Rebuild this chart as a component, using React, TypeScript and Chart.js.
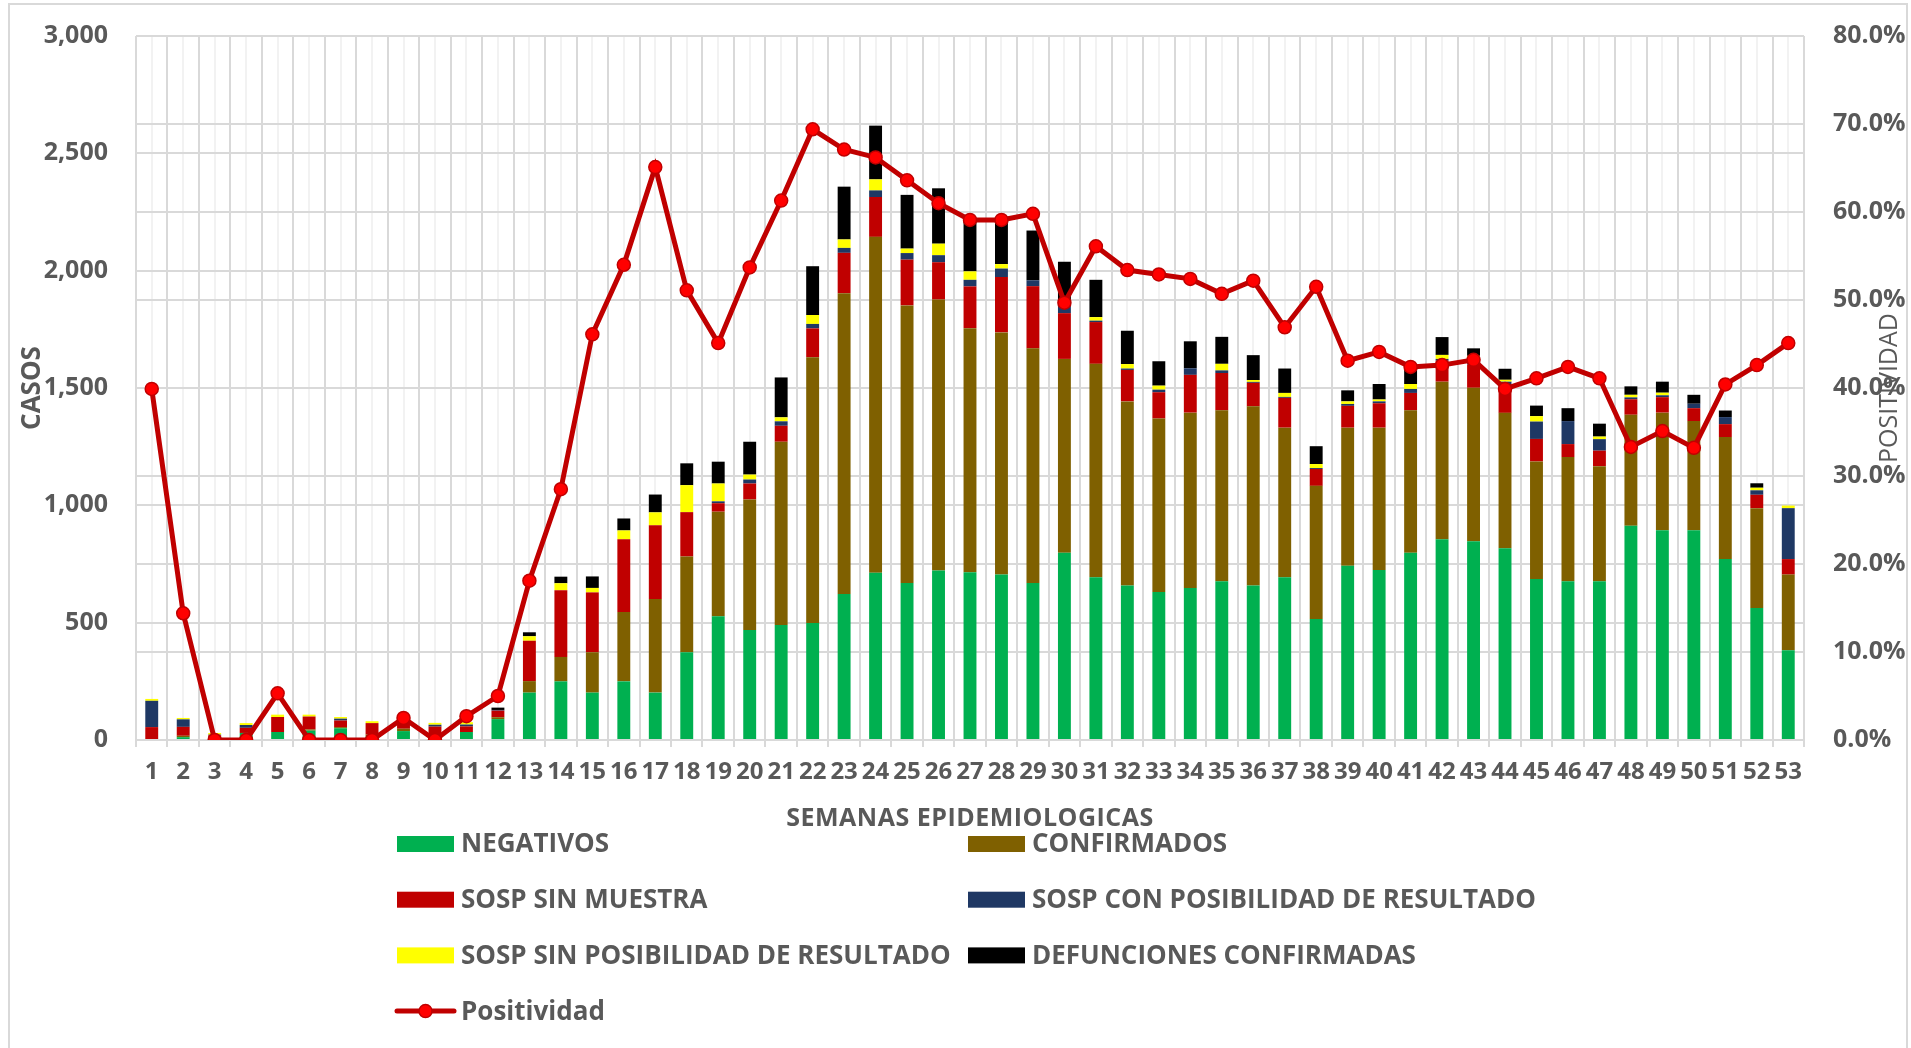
import React, { useEffect, useRef } from 'react';
import { Chart, registerables } from 'chart.js';

Chart.register(...registerables);

const FONT = '"Open Sans", "DejaVu Sans", sans-serif';
const TEXT = '#595959';
const GRID = '#d9d9d9';

const semanas = ['1','2','3','4','5','6','7','8','9','10','11','12','13','14','15','16','17','18','19','20','21','22','23','24','25','26','27','28','29','30','31','32','33','34','35','36','37','38','39','40','41','42','43','44','45','46','47','48','49','50','51','52','53'];

const negativos = [0,12,5,30,34,40,50,15,38,12,34,89,202,250,202,250,202,374,527,469,490,499,622,713,669,722,715,705,669,798,694,658,631,648,677,658,694,516,743,724,798,856,847,817,686,677,677,913,894,894,771,563,382];
const confirmados = [0,6,3,0,0,5,5,8,10,3,0,8,49,104,172,295,399,408,446,556,781,1132,1282,1431,1183,1155,1040,1032,1000,826,909,785,739,747,728,764,637,567,588,607,607,671,654,577,501,529,490,473,501,465,520,425,323];
const sospSinMuestra = [55,38,12,22,64,55,28,49,25,42,24,28,172,284,255,310,314,189,36,68,68,123,172,170,195,159,178,236,265,195,178,134,112,161,159,100,127,72,93,104,74,89,98,113,96,55,66,66,66,55,55,57,66];
const sospConPosibilidad = [112,32,3,12,0,0,8,0,0,8,8,3,0,0,0,0,0,0,8,17,19,19,21,28,28,30,28,36,25,34,6,6,11,28,11,4,4,4,8,8,17,8,30,20,74,98,49,8,8,19,30,19,217];
const sospSinPosibilidad = [8,6,7,8,10,8,7,8,5,8,10,0,19,30,19,38,55,115,76,21,17,38,36,47,19,49,36,19,0,0,15,19,17,0,28,8,17,17,11,8,21,17,8,8,23,0,11,11,11,0,0,11,11];
const defunciones = [0,0,0,0,0,0,0,0,0,0,0,10,17,28,49,51,76,93,93,140,170,208,225,229,229,236,217,187,212,185,159,142,104,115,115,106,104,76,47,66,64,76,32,47,45,55,55,36,47,38,28,19,0];
const positividad = [39.9,14.4,0,0,5.3,0,0,0,2.5,0,2.7,5.0,18.1,28.5,46.1,54.0,65.1,51.1,45.1,53.7,61.3,69.4,67.1,66.2,63.6,61.0,59.1,59.1,59.8,49.7,56.1,53.4,52.9,52.4,50.7,52.2,46.9,51.5,43.1,44.1,42.4,42.6,43.2,39.9,41.1,42.4,41.1,33.3,35.1,33.2,40.4,42.6,45.1];

const barSeries = [
  { label: 'NEGATIVOS', data: negativos, color: '#00B050' },
  { label: 'CONFIRMADOS', data: confirmados, color: '#7F6000' },
  { label: 'SOSP SIN MUESTRA', data: sospSinMuestra, color: '#C00000' },
  { label: 'SOSP CON POSIBILIDAD DE RESULTADO', data: sospConPosibilidad, color: '#1F3864' },
  { label: 'SOSP SIN POSIBILIDAD DE RESULTADO', data: sospSinPosibilidad, color: '#FFFF00' },
  { label: 'DEFUNCIONES CONFIRMADAS', data: defunciones, color: '#000000' },
];

const decorPlugin = {
  id: 'decor',
  beforeDraw(chart: any) {
    const ctx = chart.ctx;
    ctx.save();
    ctx.fillStyle = '#ffffff';
    ctx.fillRect(0, 0, chart.width, chart.height);
    ctx.strokeStyle = GRID;
    ctx.lineWidth = 2;
    ctx.strokeRect(9, 4, 1898, 1200);
    ctx.restore();
  },
  afterDraw(chart: any) {
    const ctx = chart.ctx;
    const { left, right, top, bottom } = chart.chartArea;
    const midY = (top + bottom) / 2;
    ctx.save();
    ctx.fillStyle = TEXT;
    ctx.textAlign = 'center';
    ctx.textBaseline = 'middle';

    ctx.save();
    ctx.translate(33, midY);
    ctx.rotate(-Math.PI / 2);
    ctx.font = `bold 26px ${FONT}`;
    ctx.fillText('CASOS', 0, 0);
    ctx.restore();

    ctx.save();
    ctx.translate(1890, midY);
    ctx.rotate(-Math.PI / 2);
    ctx.font = `25px ${FONT}`;
    ctx.fillText('POSITIVIDAD', 0, 0);
    ctx.restore();

    ctx.save();
    ctx.font = `bold 25px ${FONT}`;
    (ctx as any).letterSpacing = '0.5px';
    ctx.fillText('SEMANAS EPIDEMIOLOGICAS', (left + right) / 2, 819);
    ctx.restore();

    // legend, two columns, row-major
    chart.data.datasets.forEach((ds: any, i: number) => {
      const r = Math.floor(i / 2);
      const c = i % 2;
      const sx = 397 + c * 571;
      const cy = 844 + r * 55.7;
      if (ds.type === 'line') {
        ctx.strokeStyle = ds.borderColor;
        ctx.lineWidth = 5;
        ctx.lineCap = 'round';
        ctx.beginPath();
        ctx.moveTo(sx, cy);
        ctx.lineTo(sx + 57, cy);
        ctx.stroke();
        ctx.beginPath();
        ctx.arc(sx + 28.5, cy, 6.5, 0, Math.PI * 2);
        ctx.fillStyle = ds.pointBackgroundColor;
        ctx.fill();
        ctx.lineWidth = 1.5;
        ctx.strokeStyle = ds.pointBorderColor;
        ctx.stroke();
      } else {
        ctx.fillStyle = ds.backgroundColor;
        ctx.fillRect(sx, cy - 8, 57, 16);
      }
      ctx.fillStyle = TEXT;
      ctx.textAlign = 'left';
      ctx.font = `bold 26px ${FONT}`;
      ctx.fillText(ds.label, sx + 64, cy + 1);
    });
    ctx.restore();
  },
};

export default function App() {
  const ref = useRef<HTMLCanvasElement | null>(null);

  useEffect(() => {
    if (!ref.current) return;
    const datasets: any[] = barSeries.map((s) => ({
      type: 'bar',
      label: s.label,
      data: s.data,
      backgroundColor: s.color,
      borderWidth: 0,
      stack: 'casos',
      xAxisID: 'x',
      yAxisID: 'y',
      barPercentage: 0.41,
      categoryPercentage: 1.0,
      order: 2,
    }));
    datasets.push({
      type: 'line',
      label: 'Positividad',
      data: positividad,
      borderColor: '#C00000',
      borderWidth: 5,
      pointRadius: 6.5,
      pointBorderWidth: 1.5,
      pointBackgroundColor: '#FF0000',
      pointBorderColor: '#C00000',
      tension: 0,
      xAxisID: 'x',
      yAxisID: 'y1',
      order: 0,
    });

    const chart = new Chart(ref.current, {
      type: 'bar',
      data: { labels: semanas, datasets },
      options: {
        responsive: false,
        maintainAspectRatio: false,
        devicePixelRatio: 1,
        animation: false,
        layout: { padding: { top: 36, left: 0, right: 0, bottom: 0 }, autoPadding: false },
        plugins: {
          legend: { display: false },
          tooltip: { enabled: false },
          title: { display: false },
        },
        scales: {
          x: {
            type: 'category',
            position: 'bottom',
            stacked: true,
            offset: true,
            grid: { offset: true, color: GRID, lineWidth: 2, drawTicks: true, tickLength: 7 },
            border: { display: true, color: GRID, width: 2 },
            ticks: {
              autoSkip: false,
              maxRotation: 0,
              minRotation: 0,
              padding: 11,
              color: TEXT,
              font: { family: FONT, size: 24, weight: 'bold' },
            },
            afterFit: (scale: any) => { scale.height = 308; scale.paddingLeft = 0; scale.paddingRight = 0; },
          },
          x2: {
            type: 'category',
            position: 'bottom',
            offset: true,
            grid: { offset: false, color: '#f2f2f2', lineWidth: 2, drawTicks: false },
            border: { display: false },
            ticks: { display: false },
            afterFit: (scale: any) => { scale.height = 0; scale.paddingLeft = 0; scale.paddingRight = 0; },
          },
          y: {
            position: 'left',
            stacked: true,
            min: 0,
            max: 3000,
            grid: { color: GRID, lineWidth: 2, drawTicks: false },
            border: { display: false },
            ticks: {
              stepSize: 500,
              padding: 28,
              color: TEXT,
              font: { family: FONT, size: 25, weight: 'bold' },
              callback: (v: any) => Number(v).toLocaleString('en-US'),
            },
            afterFit: (scale: any) => { scale.width = 136; scale.paddingTop = 0; scale.paddingBottom = 0; },
          },
          y1: {
            position: 'right',
            min: 0,
            max: 80,
            grid: { color: GRID, lineWidth: 2, drawTicks: false },
            border: { display: false },
            ticks: {
              stepSize: 10,
              padding: 29,
              color: TEXT,
              font: { family: FONT, size: 25, weight: 'bold' },
              callback: (v: any) => Number(v).toFixed(1) + '%',
            },
            afterFit: (scale: any) => { scale.width = 107; scale.paddingTop = 0; scale.paddingBottom = 0; },
          },
        },
      },
      plugins: [decorPlugin],
    } as any);

    return () => chart.destroy();
  }, []);

  return (
    <div style={{ position: 'fixed', left: 0, top: 0, width: 1911, height: 1048, overflow: 'hidden', background: '#ffffff' }}>
      <canvas ref={ref} width={1911} height={1048} style={{ display: 'block', width: 1911, height: 1048 }} />
    </div>
  );
}
